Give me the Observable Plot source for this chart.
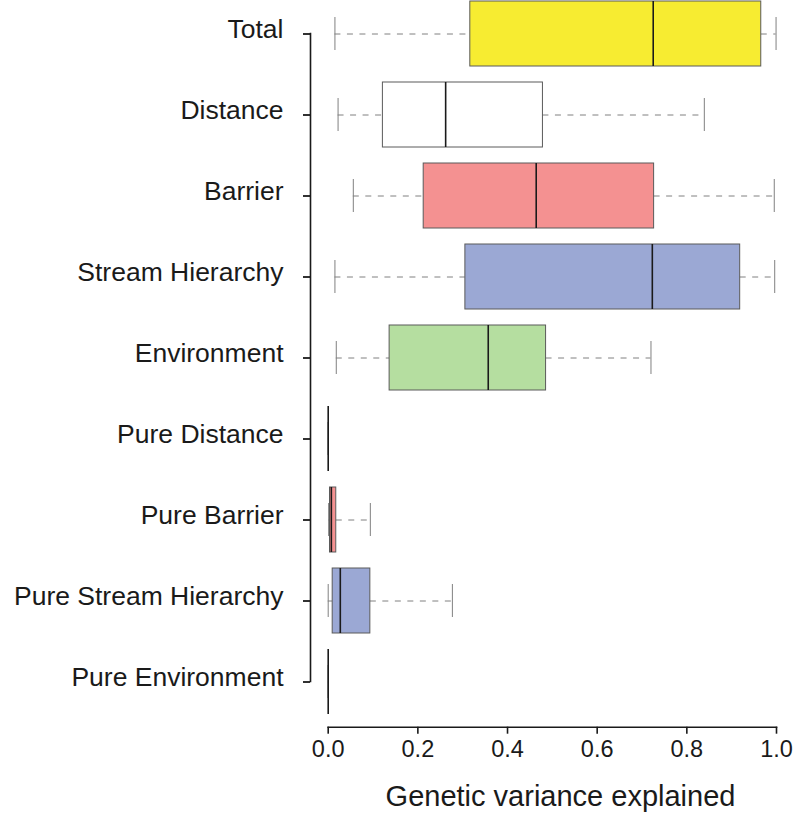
<!DOCTYPE html>
<html><head><meta charset="utf-8">
<script src="https://cdn.jsdelivr.net/npm/d3@7"></script>
<script src="https://cdn.jsdelivr.net/npm/@observablehq/plot@0.6"></script>
<style>body{margin:0;background:#fff;}</style>
</head><body><div id="chart"></div>
<script>
const categories = ["Total","Distance","Barrier","Stream Hierarchy","Environment","Pure Distance","Pure Barrier","Pure Stream Hierarchy","Pure Environment"];
const whiskerLow  = [0.015, 0.022, 0.056, 0.015, 0.018, 0, 0.001, 0.000, 0];
const q1          = [0.317, 0.122, 0.213, 0.306, 0.137, 0, 0.004, 0.010, 0];
const median      = [0.725, 0.262, 0.464, 0.723, 0.357, 0, 0.007, 0.027, 0];
const q3          = [0.966, 0.479, 0.727, 0.919, 0.486, 0, 0.018, 0.094, 0];
const whiskerHigh = [0.999, 0.839, 0.995, 0.996, 0.720, 0, 0.094, 0.277, 0];
const boxColors = ["#F7EC31","#FFFFFF","#F49191","#9BA8D4","#B5DEA0","#FFFFFF","#F49191","#9BA8D4","#FFFFFF"];
const xTicks = [0, 0.2, 0.4, 0.6, 0.8, 1.0];
const xLabel = "Genetic variance explained";

const rows = categories.map((c, i) => ({
  cat: c, lo: whiskerLow[i], q1: q1[i], med: median[i], q3: q3[i], hi: whiskerHigh[i], color: boxColors[i]
}));

const whiskerStroke = "#808080";
const plot = Plot.plot({
  width: 793, height: 822,
  marginLeft: 310, marginRight: 17, marginTop: 0, marginBottom: 95.3,
  style: {fontFamily: "'Liberation Sans', Arial, sans-serif", background: "#fff", color: "#1a1a1a"},
  x: {domain: [0, 1], insetLeft: 17.7},
  y: {domain: categories, range: [-7.5, 721.5], padding: 0},
  color: {type: "identity"},
  marks: [
    Plot.frame({anchor: "left", insetTop: 33, insetBottom: 45.7, stroke: "#1a1a1a", strokeWidth: 1.6}),
    Plot.frame({anchor: "bottom", insetLeft: 17.7, stroke: "#1a1a1a", strokeWidth: 1.6}),
    Plot.axisY({tickSize: 7, tickFormat: () => "", label: null, stroke: "#1a1a1a", strokeWidth: 1.8, strokeOpacity: 1}),
    Plot.axisY({tickSize: 0, tickPadding: 27, fontSize: 26.5, dy: -4, label: null, fill: "#1a1a1a"}),
    Plot.axisX({ticks: xTicks, tickFormat: d3.format(".1f"), tickSize: 7, tickPadding: 6, fontSize: 23.5, label: null, stroke: "#1a1a1a", strokeWidth: 1.6, strokeOpacity: 1}),
    Plot.text([xLabel], {frameAnchor: "bottom", dy: 79, dx: 17, fontSize: 29, fill: "#1a1a1a"}),
    Plot.ruleY(rows, {x1: "lo", x2: "q1", y: "cat", stroke: whiskerStroke, strokeDasharray: "6,6.5"}),
    Plot.ruleY(rows, {x1: "q3", x2: "hi", y: "cat", stroke: whiskerStroke, strokeDasharray: "6,6.5"}),
    Plot.tickX(rows, {x: "lo", y: "cat", insetTop: 24, insetBottom: 24, stroke: whiskerStroke}),
    Plot.tickX(rows, {x: "hi", y: "cat", insetTop: 24, insetBottom: 24, stroke: whiskerStroke}),
    Plot.barX(rows, {x1: "q1", x2: "q3", y: "cat", fill: "color", stroke: "#5a5a5a", strokeWidth: 1, insetTop: 8, insetBottom: 8}),
    Plot.tickX(rows, {x: "med", y: "cat", insetTop: 8, insetBottom: 8, stroke: "#1a1a1a", strokeWidth: 1.6})
  ]
});
document.getElementById("chart").appendChild(plot);
</script>
</body></html>
